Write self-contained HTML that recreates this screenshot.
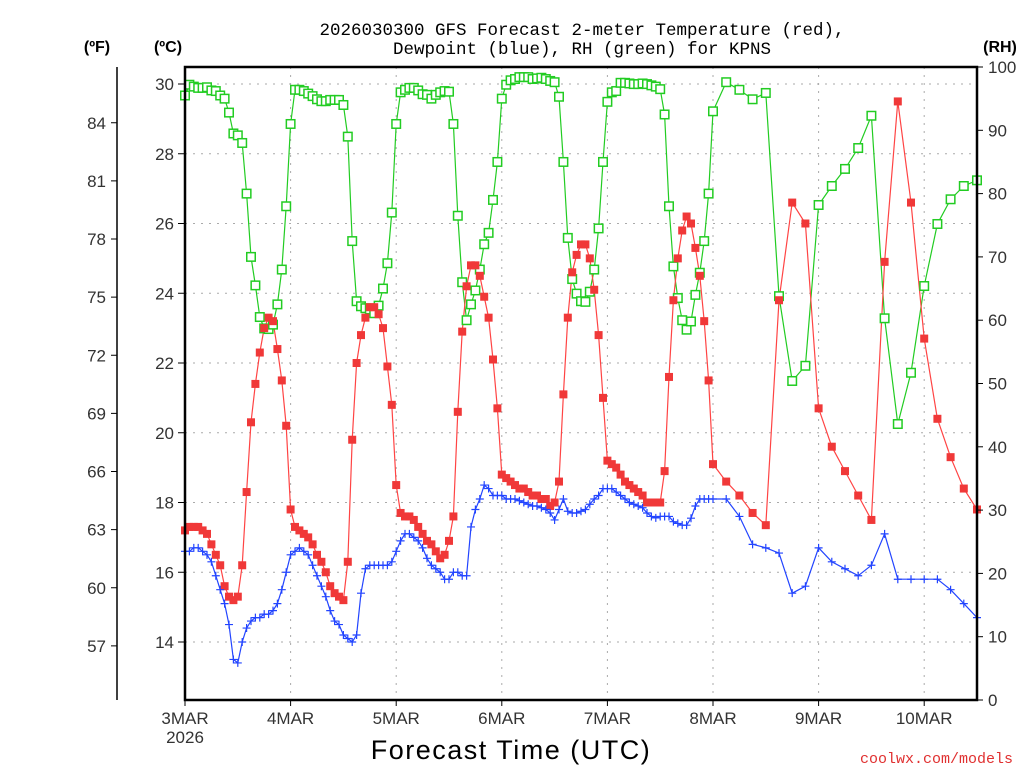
<!DOCTYPE html>
<html><head><meta charset="utf-8"><style>
html,body{margin:0;padding:0;background:#fff;}
svg{display:block;font-family:"Liberation Sans",sans-serif;}
</style></head><body>
<svg id="chart" width="1024" height="768" viewBox="0 0 1024 768" xmlns="http://www.w3.org/2000/svg">
<rect x="0" y="0" width="1024" height="768" fill="#fff"/>
<g id="grid"></g>
<g id="series"></g>
<g id="axes"></g>
<text x="582" y="35" text-anchor="middle" font-family="Liberation Mono, monospace" font-size="17.5" fill="#000">2026030300 GFS Forecast 2-meter Temperature (red),</text>
<text x="582" y="54" text-anchor="middle" font-family="Liberation Mono, monospace" font-size="17.5" fill="#000">Dewpoint (blue), RH (green) for KPNS</text>
<text x="97" y="52" text-anchor="middle" font-size="16" font-weight="bold" fill="#000">(ºF)</text>
<text x="168" y="52" text-anchor="middle" font-size="16" font-weight="bold" fill="#000">(ºC)</text>
<text x="1000" y="52" text-anchor="middle" font-size="16" font-weight="bold" fill="#000">(RH)</text>
<text x="511" y="759" text-anchor="middle" font-size="27" fill="#000" letter-spacing="1.5">Forecast Time (UTC)</text>
<text x="1013" y="763" text-anchor="end" font-family="Liberation Mono, monospace" font-size="15" fill="#e03030">coolwx.com/models</text>
</svg>
<script>
const hours = [];
for (let h = 0; h <= 120; h++) hours.push(h);
for (let h = 123; h <= 180; h += 3) hours.push(h);

const tempC = [17.2,17.3,17.3,17.3,17.2,17.1,16.8,16.5,16.2,15.6,15.3,15.2,15.3,16.2,18.3,20.3,21.4,22.3,23.0,23.3,23.2,22.4,21.5,20.2,17.8,
17.3,17.2,17.1,17.0,16.8,16.5,16.3,16.0,15.6,15.4,15.3,15.2,16.3,19.8,22.0,22.8,23.3,23.6,23.6,23.4,23.0,21.9,20.8,18.5,
17.7,17.6,17.6,17.5,17.3,17.1,16.9,16.8,16.6,16.4,16.5,16.9,17.6,20.6,22.9,24.2,24.8,24.8,24.5,23.9,23.3,22.1,20.7,18.8,
18.7,18.6,18.5,18.4,18.4,18.3,18.2,18.2,18.1,18.1,17.9,18.0,18.6,21.1,23.3,24.6,25.1,25.4,25.4,25.0,24.1,22.8,21.0,19.2,
19.1,19.0,18.8,18.6,18.5,18.4,18.3,18.2,18.0,18.0,18.0,18.0,18.9,21.6,23.8,25.0,25.8,26.2,26.0,25.3,24.5,23.2,21.5,19.1,
18.6,18.2,17.7,17.35,23.8,26.6,26.0,20.7,19.6,18.9,18.2,17.5,24.9,29.5,26.6,22.7,20.4,19.3,18.4,17.8];

const dewC = [16.6,16.6,16.7,16.7,16.6,16.5,16.3,15.9,15.5,15.1,14.5,13.5,13.4,14.0,14.4,14.6,14.7,14.7,14.8,14.8,14.9,15.1,15.5,16.0,16.5,
16.6,16.7,16.6,16.5,16.2,15.9,15.6,15.3,14.9,14.6,14.5,14.2,14.1,14.0,14.2,15.4,16.1,16.2,16.2,16.2,16.2,16.2,16.3,16.6,
16.9,17.1,17.1,17.0,16.9,16.7,16.4,16.2,16.1,16.0,15.8,15.8,16.0,16.0,15.9,15.9,17.3,17.8,18.1,18.5,18.4,18.2,18.2,18.2,
18.1,18.1,18.1,18.05,18.0,17.95,17.9,17.9,17.85,17.8,17.7,17.5,17.8,18.1,17.75,17.7,17.7,17.75,17.8,17.95,18.1,18.2,18.4,18.4,
18.4,18.3,18.2,18.1,18.0,17.95,17.9,17.85,17.7,17.6,17.56,17.6,17.6,17.6,17.45,17.4,17.35,17.35,17.55,17.9,18.1,18.1,18.1,18.1,
18.1,17.6,16.8,16.7,16.55,15.4,15.6,16.7,16.3,16.1,15.9,16.2,17.1,15.8,15.8,15.8,15.8,15.5,15.1,14.7];

const rhPct = [95.5,97.2,96.9,96.7,96.7,96.8,96.3,96.2,95.5,95.0,92.8,89.5,89.2,88.0,80.0,70.0,65.5,60.5,58.7,58.6,59.3,62.5,68.0,78.0,91.0,
96.4,96.4,96.2,95.8,95.4,94.9,94.6,94.6,94.8,94.8,94.8,94.0,89.0,72.5,63.0,62.2,61.9,61.7,61.1,62.3,65.0,69.0,77.0,91.0,
96.0,96.4,96.7,96.7,96.3,95.7,95.6,95.0,95.6,96.0,96.2,96.1,91.0,76.5,66.0,60.0,62.5,64.7,68.0,72.0,73.8,79.0,85.0,95.0,
97.2,97.9,98.1,98.4,98.4,98.4,98.1,98.2,98.3,98.1,97.8,97.6,95.3,85.0,73.0,66.5,64.2,63.0,62.9,64.5,68.0,74.5,85.0,94.5,
96.0,96.2,97.5,97.5,97.4,97.3,97.3,97.4,97.3,97.1,96.9,96.5,92.5,78.0,68.5,63.5,60.0,58.5,59.8,64.0,67.5,72.5,80.0,93.0,
97.6,96.4,94.9,95.9,63.8,50.4,52.8,78.2,81.2,83.9,87.2,92.3,60.3,43.6,51.7,65.4,75.2,79.1,81.2,82.1];

const celsiusTicks = [14,16,18,20,22,24,26,28,30];
const fahrenheitTicks = [57,60,63,66,69,72,75,78,81,84];
const rhTicks = [0,10,20,30,40,50,60,70,80,90,100];
const dayLabels = ["3MAR","4MAR","5MAR","6MAR","7MAR","8MAR","9MAR","10MAR"];

const NS = "http://www.w3.org/2000/svg";
const X0 = 185, X1 = 977, Y0 = 67, Y1 = 700;
const hourMax = 180;
const xOf = h => X0 + (h / hourMax) * (X1 - X0);
const yC = c => 84 + (30 - c) * 34.875;
const yF = f => yC((f - 32) * 5 / 9);
const yRH = r => Y1 - (r / 100) * (Y1 - Y0);

function mk(tag, attrs, parent) {
  const e = document.createElementNS(NS, tag);
  for (const k in attrs) e.setAttribute(k, attrs[k]);
  parent.appendChild(e);
  return e;
}
const grid = document.getElementById('grid');
const axes = document.getElementById('axes');
const series = document.getElementById('series');

celsiusTicks.forEach(c => {
  const y = yC(c);
  const g = mk('line', {x1:X0, x2:X1, y1:y, y2:y, stroke:'#aaa', 'stroke-width':1, 'stroke-dasharray':'2,6'}, grid);
  
  
  const t = mk('line', {x1:X0-7, x2:X0, y1:y, y2:y, stroke:'#000', 'stroke-width':1}, axes);
  
  
  const l = mk('text', {x:X0-11, y:y+6, 'text-anchor':'end', 'font-size':17, fill:'#333'}, axes);
  l.textContent = c;
  
  
});
dayLabels.forEach((d, i) => {
  const x = xOf(i * 24);
  if (i > 0) {
    const g = mk('line', {x1:x, x2:x, y1:Y0, y2:Y1, stroke:'#aaa', 'stroke-width':1, 'stroke-dasharray':'2,6'}, grid);
    
    
  }
  const t = mk('line', {x1:x, x2:x, y1:Y1, y2:Y1+6, stroke:'#000', 'stroke-width':1}, axes);
  
  
  const l = mk('text', {x:x, y:724, 'text-anchor':'middle', 'font-size':17, fill:'#333'}, axes);
  l.textContent = d;
  
  
});
const yr = mk('text', {x:X0, y:743, 'text-anchor':'middle', 'font-size':17, fill:'#333'}, axes);
yr.textContent = "2026";



const fAxis = mk('line', {x1:117, x2:117, y1:Y0, y2:Y1, stroke:'#000', 'stroke-width':1.5}, axes);


fahrenheitTicks.forEach(f => {
  const y = yF(f);
  const t = mk('line', {x1:111, x2:117, y1:y, y2:y, stroke:'#000', 'stroke-width':1}, axes);
  
  
  const l = mk('text', {x:106, y:y+6, 'text-anchor':'end', 'font-size':17, fill:'#333'}, axes);
  l.textContent = f;
  
  
});
rhTicks.forEach(r => {
  const y = yRH(r);
  const t = mk('line', {x1:X1, x2:X1+6, y1:y, y2:y, stroke:'#000', 'stroke-width':1}, axes);
  
  
  const l = mk('text', {x:X1+11, y:y+6, 'text-anchor':'start', 'font-size':17, fill:'#333'}, axes);
  l.textContent = r;
  
  
});
const frame = mk('rect', {x:X0, y:Y0, width:X1-X0, height:Y1-Y0, fill:'none', stroke:'#000', 'stroke-width':2.5}, axes);



function drawLine(vals, yfn, color, name) {
  const pts = vals.map((v, i) => xOf(hours[i]).toFixed(1) + ',' + yfn(v).toFixed(1)).join(' ');
  const p = mk('polyline', {points:pts, fill:'none', stroke:color, 'stroke-width':1.2}, series);
  
  
}
drawLine(rhPct, yRH, '#22cc22', 'rh-line');
drawLine(tempC, yC, '#ff4444', 'temperature-line');
drawLine(dewC, yC, '#2244ff', 'dewpoint-line');

rhPct.forEach((v, i) => {
  const x = xOf(hours[i]), y = yRH(v);
  const m = mk('rect', {x:x-4.25, y:y-4.25, width:8.5, height:8.5, fill:'#fff', stroke:'#22cc22', 'stroke-width':1.5}, series);
  
  
});
tempC.forEach((v, i) => {
  const x = xOf(hours[i]), y = yC(v);
  const m = mk('rect', {x:x-4, y:y-4, width:8, height:8, fill:'#f03838'}, series);
  
  
});
dewC.forEach((v, i) => {
  const x = xOf(hours[i]), y = yC(v);
  const m = mk('path', {d:`M${x-4},${y}H${x+4}M${x},${y-4}V${y+4}`, stroke:'#2244ff', 'stroke-width':1.2, fill:'none'}, series);
  
  
});
</script>
</body></html>
